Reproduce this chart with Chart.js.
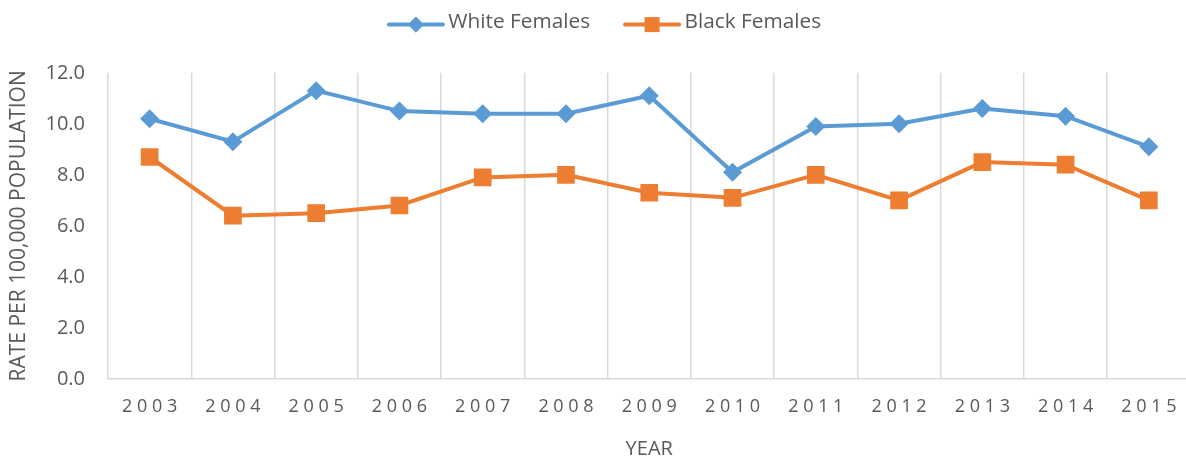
<!DOCTYPE html>
<html>
<head>
<meta charset="utf-8">
<script src="https://cdn.jsdelivr.net/npm/chart.js@4/dist/chart.umd.min.js"></script>
<style>
  html, body { margin: 0; padding: 0; background: #fff; overflow: hidden; }
  #wrap { width: 1203px; height: 461px; }
</style>
</head>
<body>
<div id="wrap"><canvas id="line-chart"></canvas></div>
<script>
var years = ["2003", "2004", "2005", "2006", "2007", "2008", "2009", "2010", "2011", "2012", "2013", "2014", "2015"];
var whiteFemales = [10.2, 9.3, 11.3, 10.5, 10.4, 10.4, 11.1, 8.1, 9.9, 10.0, 10.6, 10.3, 9.1];
var blackFemales = [8.7, 6.4, 6.5, 6.8, 7.9, 8.0, 7.3, 7.1, 8.0, 7.0, 8.5, 8.4, 7.0];

var FONT = "'Open Sans', 'Liberation Sans', sans-serif";
var TEXT = "#595959";

// extra gap below the legend
var legendGap = {
  id: "legendGap",
  beforeLayout: function (chart) {
    var legend = chart.legend;
    if (!legend || legend._gapDone) return;
    var fit = legend.fit;
    legend.fit = function () {
      fit.call(this);
      this.height += 30;
    };
    legend._gapDone = true;
  }
};

// draw line + marker legend symbols like the original
var legendSymbols = {
  id: "legendSymbols",
  afterDraw: function (chart) {
    var legend = chart.legend;
    if (!legend || !legend.legendHitBoxes) return;
    var ctx = chart.ctx;
    legend.legendHitBoxes.forEach(function (box, i) {
      var ds = chart.data.datasets[i];
      var y = box.top + 12.6;
      var x0 = box.left + 1, x1 = box.left + legend.options.labels.boxWidth + 5;
      ctx.save();
      ctx.strokeStyle = ds.borderColor;
      ctx.lineWidth = 4;
      ctx.lineCap = "round";
      ctx.beginPath();
      ctx.moveTo(x0, y);
      ctx.lineTo(x1, y);
      ctx.stroke();
      ctx.fillStyle = ds.backgroundColor;
      ctx.strokeStyle = ds.backgroundColor;
      Chart.helpers.drawPoint(ctx, {
        pointStyle: ds.pointStyle,
        radius: ds.pointRadius * 0.85,
        borderWidth: 0
      }, (x0 + x1) / 2, y);
      ctx.restore();
    });
  }
};

var config = {
  type: "line",
  data: {
    labels: years,
    datasets: [
      {
        label: "White Females",
        data: whiteFemales,
        borderColor: "#5b9bd5",
        backgroundColor: "#5b9bd5",
        borderWidth: 4,
        pointStyle: "rectRot",
        pointRadius: 9.5,
        pointHoverRadius: 9.5,
        pointBorderWidth: 0,
        fill: false
      },
      {
        label: "Black Females",
        data: blackFemales,
        borderColor: "#ed7d31",
        backgroundColor: "#ed7d31",
        borderWidth: 4,
        pointStyle: "rect",
        pointRadius: 12.5,
        pointHoverRadius: 12.5,
        pointBorderWidth: 0,
        fill: false
      }
    ]
  },
  options: {
    responsive: true,
    maintainAspectRatio: false,
    animation: false,
    layout: { padding: { left: 6, right: 0, top: -22, bottom: 0 } },
    plugins: {
      tooltip: { enabled: false },
      legend: {
        position: "top",
        labels: {
          boxWidth: 50,
          boxHeight: 10,
          padding: 34,
          color: TEXT,
          font: { family: FONT, size: 20.8 },
          generateLabels: function (chart) {
            return chart.data.datasets.map(function (ds, i) {
              return {
                text: ds.label,
                fillStyle: "rgba(0,0,0,0)",
                strokeStyle: "rgba(0,0,0,0)",
                lineWidth: 0,
                fontColor: TEXT,
                datasetIndex: i
              };
            });
          }
        }
      }
    },
    scales: {
      x: {
        offset: true,
        afterFit: function (scale) { scale.height = 82; },
        grid: {
          offset: true,
          display: true,
          color: "#d9d9d9",
          lineWidth: 1.5,
          drawTicks: false
        },
        border: { display: true, color: "#d9d9d9", width: 1.5 },
        ticks: {
          color: TEXT,
          font: { family: FONT, size: 18 },
          padding: 17,
          maxRotation: 0,
          callback: function (v, i) { return years[i].split("").join(" "); }
        },
        title: {
          display: true,
          text: "YEAR",
          color: TEXT,
          font: { family: FONT, size: 20 },
          padding: { top: 0, bottom: 0 }
        }
      },
      y: {
        min: 0,
        max: 12,
        afterFit: function (scale) { scale.width = 102; },
        grid: { display: false, drawTicks: false },
        border: { display: false },
        ticks: {
          stepSize: 2,
          color: TEXT,
          font: { family: FONT, size: 20 },
          padding: 23,
          callback: function (v) { return v.toFixed(1); }
        },
        title: {
          display: true,
          text: "RATE PER 100,000 POPULATION",
          color: TEXT,
          font: { family: FONT, size: 21 },
          padding: { top: 0, bottom: 0 }
        }
      }
    }
  },
  plugins: [legendGap, legendSymbols]
};

var ctx = document.getElementById("line-chart").getContext("2d");
window.myLine = new Chart(ctx, config);
</script>
</body>
</html>
